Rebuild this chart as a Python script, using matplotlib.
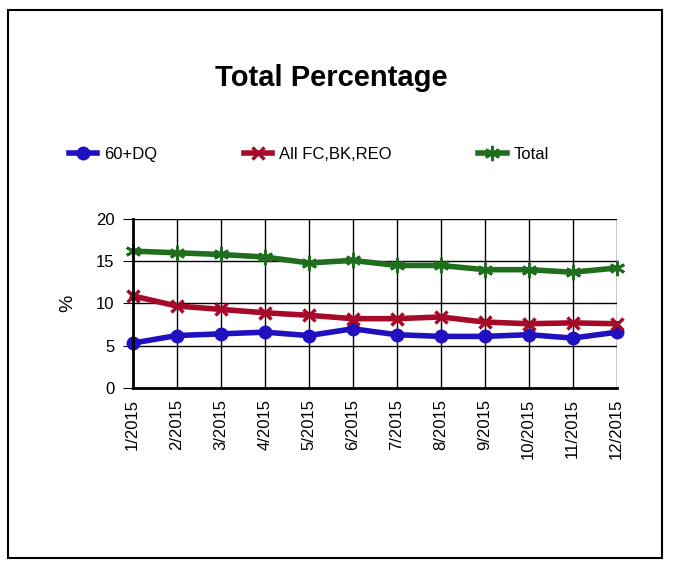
import matplotlib.pyplot as plt
from matplotlib.patches import Rectangle

months = ['1/2015','2/2015','3/2015','4/2015','5/2015','6/2015','7/2015','8/2015','9/2015','10/2015','11/2015','12/2015']
dq60 = [5.3, 6.2, 6.4, 6.6, 6.2, 7.0, 6.3, 6.1, 6.1, 6.3, 5.9, 6.6]
fc_bk_reo = [10.9, 9.7, 9.3, 8.9, 8.6, 8.2, 8.2, 8.4, 7.8, 7.6, 7.7, 7.6]
total = [16.2, 16.0, 15.8, 15.5, 14.8, 15.1, 14.5, 14.5, 14.0, 14.0, 13.7, 14.2]

plt.rcParams['font.family'] = ['Liberation Sans', 'DejaVu Sans']
fig = plt.figure(figsize=(6.77, 5.63), dpi=100)
fig.patches.append(Rectangle((0.012, 0.009), 0.966, 0.973, transform=fig.transFigure,
                             fill=False, edgecolor='black', linewidth=1.5))
ax = fig.add_axes([0.196, 0.311, 0.715, 0.300])
x = range(len(months))
ax.plot(x, dq60, '-o', color='#2010c0', lw=4, ms=9, label='60+DQ', clip_on=False)
ax.plot(x, fc_bk_reo, '-x', color='#a50a28', lw=4, ms=9, mew=2.5, label='All FC,BK,REO', clip_on=False)
ax.plot(x, total, '-', marker=(6, 2, 0), color='#1e6e1e', lw=4, ms=11, mew=2, label='Total', clip_on=False)
ax.set_xlim(0, len(months) - 1)
ax.set_ylim(0, 20)
ax.set_yticks([0, 5, 10, 15, 20])
ax.set_xticks(list(x))
ax.set_xticklabels(months, rotation=90, fontsize=12)
ax.tick_params(axis='y', labelsize=12, length=7, pad=6)
ax.tick_params(axis='x', length=0, pad=8)
ax.grid(True, color='black', lw=1)
ax.set_axisbelow(True)
for s in ['top', 'right']:
    ax.spines[s].set_visible(False)
ax.spines['left'].set_linewidth(2)
ax.spines['bottom'].set_linewidth(2)
ax.set_ylabel('%', fontsize=14, labelpad=14)
fig.text(0.49, 0.862, 'Total Percentage', ha='center', va='center', fontsize=21, fontweight='bold')
fig.legend(loc='center left', bbox_to_anchor=(0.08, 0.725), ncol=3, frameon=False,
           fontsize=12, columnspacing=5.2, handlelength=1.7, handletextpad=0.4)
fig.savefig('out.png')
